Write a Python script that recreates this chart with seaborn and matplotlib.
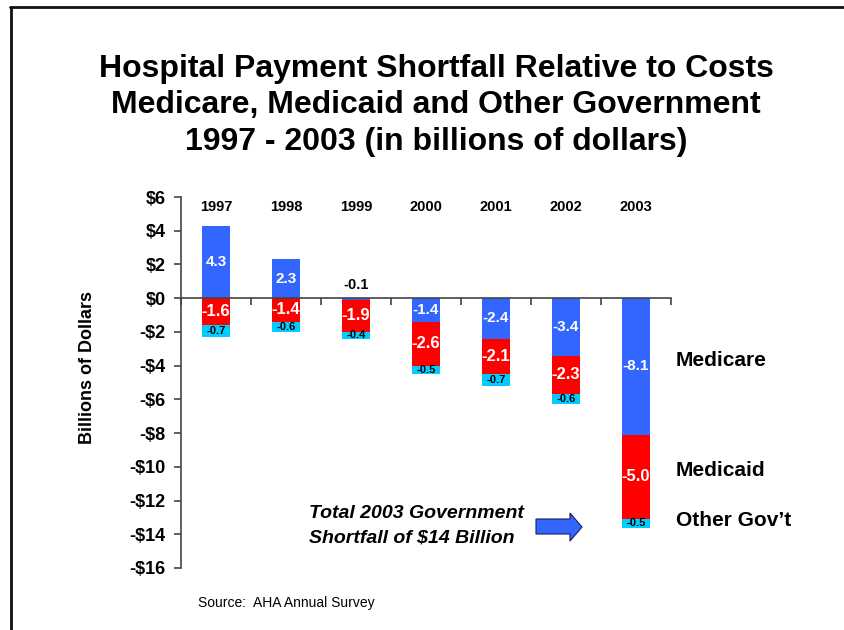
import matplotlib
matplotlib.use("Agg")
import matplotlib.pyplot as plt
from matplotlib.patches import Polygon
from matplotlib.lines import Line2D
import seaborn as sns
import numpy as np

# ---- data ----
years = ["1997", "1998", "1999", "2000", "2001", "2002", "2003"]
medicare = [4.3, 2.3, -0.1, -1.4, -2.4, -3.4, -8.1]
medicaid = [-1.6, -1.4, -1.9, -2.6, -2.1, -2.3, -5.0]
other_gov = [-0.7, -0.6, -0.4, -0.5, -0.7, -0.6, -0.5]
series_names = ["Medicare", "Medicaid", "Other Gov\u2019t"]
yticks = list(range(-16, 7, 2))
title_lines = ["Hospital Payment Shortfall Relative to Costs",
               "Medicare, Medicaid and Other Government",
               "1997 - 2003 (in billions of dollars)"]

C_BLUE = "#3366FF"
C_RED = "#FF0000"
C_CYAN = "#00CCFF"

sns.set_style("ticks")
plt.rcParams['font.family'] = ['Liberation Sans', 'DejaVu Sans']
plt.rcParams['text.color'] = 'black'
plt.rcParams['axes.labelcolor'] = 'black'
plt.rcParams['xtick.color'] = 'black'
plt.rcParams['ytick.color'] = 'black'

W, H = 844, 630
fig = plt.figure(figsize=(W / 100, H / 100), dpi=100)

def fx(px):
    return px / W

def fy(py):
    return 1 - py / H

L, R, T, B = 181, 671, 197, 568
ax = fig.add_axes([fx(L), fy(B), (R - L) / W, (B - T) / H])

med = np.array(medicare)
mcd = np.array(medicaid)
oth = np.array(other_gov)
neg_base = np.minimum(med, 0)
mcd_end = neg_base + mcd
oth_end = mcd_end + oth

# overlay drawing (deepest first)
bar_kw = dict(saturation=1, width=0.4, linewidth=0, edgecolor="none", ax=ax)
sns.barplot(x=years, y=oth_end, color=C_CYAN, **bar_kw)
sns.barplot(x=years, y=mcd_end, color=C_RED, **bar_kw)
sns.barplot(x=years, y=med, color=C_BLUE, **bar_kw)

ax.set_xlim(-0.5, 6.5)
ax.set_ylim(-16, 6)
ax.set_xticks([i - 0.5 for i in range(8)])
ax.set_xticklabels([""] * 8)
ax.set_yticks(yticks)
ax.set_yticklabels([("$%d" % v) if v >= 0 else ("-$%d" % (-v)) for v in yticks],
                   fontsize=13, fontweight="bold")
ax.spines['top'].set_visible(False)
ax.spines['right'].set_visible(False)
ax.spines['bottom'].set_position(('data', 0))
for s in ['left', 'bottom']:
    ax.spines[s].set_color("#444444")
    ax.spines[s].set_linewidth(1.2)
ax.tick_params(axis='x', direction='out', length=5, color="#444444", width=1.2)
ax.tick_params(axis='y', direction='out', length=5, color="#444444", width=1.2, pad=6)
ax.set_xlabel("")
ax.set_ylabel("")
ax.grid(False)

# year labels at top
for i, yr in enumerate(years):
    ax.text(i, 5.4, yr, ha="center", va="center", fontsize=10.5, fontweight="bold")

# segment labels
for i in range(len(years)):
    v = med[i]
    if abs(v) < 0.5:
        ax.text(i, 0.8, f"{v:.1f}", ha="center", va="center", fontsize=10.5,
                fontweight="bold", color="black")
    else:
        ax.text(i, v / 2, f"{v:.1f}", ha="center", va="center", fontsize=11,
                fontweight="bold", color="white")
    ax.text(i, neg_base[i] + mcd[i] / 2, f"{mcd[i]:.1f}", ha="center", va="center",
            fontsize=12, fontweight="bold", color="white")
    ax.text(i, mcd_end[i] + oth[i] / 2, f"{oth[i]:.1f}", ha="center", va="center",
            fontsize=8, fontweight="bold", color="black")

# title
for line, by in zip(title_lines, [77, 113, 150]):
    fig.text(fx(436), fy(by), line, ha="center", va="baseline", fontsize=23,
             fontweight="bold")

# y label
fig.text(fx(88), fy(367), "Billions of Dollars", rotation=90, ha="center", va="center",
         fontsize=13, fontweight="bold")

# right-side legend labels
for name, py in zip(series_names, [360, 470, 520]):
    fig.text(fx(676), fy(py), name, ha="left", va="center", fontsize=15, fontweight="bold")

# annotation
fig.text(fx(309), fy(513), "Total 2003 Government", ha="left", va="center",
         fontsize=14, fontweight="bold", style="italic")
fig.text(fx(309), fy(538), "Shortfall of $14 Billion", ha="left", va="center",
         fontsize=14, fontweight="bold", style="italic")

arrow_px = [(536, 519), (570, 519), (570, 513), (582, 527), (570, 541), (570, 534), (536, 534)]
arrow = Polygon([(fx(x), fy(y)) for x, y in arrow_px], closed=True,
                transform=fig.transFigure, facecolor=C_BLUE, edgecolor="#1a1a60",
                linewidth=0.8)
fig.patches.append(arrow)

# source
fig.text(fx(198), fy(603), "Source:  AHA Annual Survey", ha="left", va="center",
         fontsize=10)

# slide frame
fig.lines.append(Line2D([fx(11), fx(11)], [fy(7), fy(630)], transform=fig.transFigure,
                        color="#111111", linewidth=2))
fig.lines.append(Line2D([fx(10), fx(844)], [fy(7), fy(7)], transform=fig.transFigure,
                        color="#111111", linewidth=2))

fig.savefig("out.png", dpi=100)
